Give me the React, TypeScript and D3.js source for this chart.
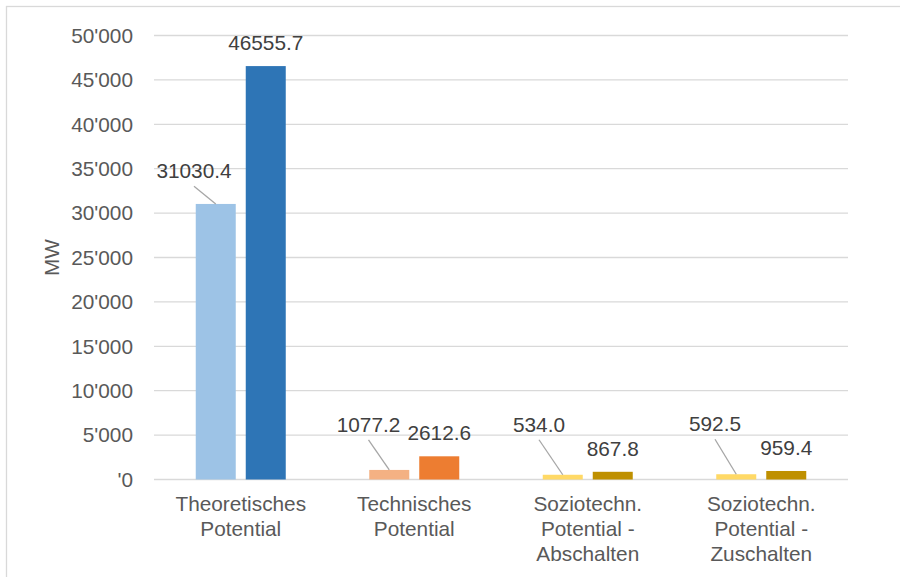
import React from "react";
import * as d3 from "d3";

// Categories (multi-line axis labels)
const categories: string[][] = [
  ["Theoretisches", "Potential"],
  ["Technisches", "Potential"],
  ["Soziotechn.", "Potential -", "Abschalten"],
  ["Soziotechn.", "Potential -", "Zuschalten"],
];

// Two series per category (lower and upper estimate), in MW
const lowValues: number[] = [31030.4, 1077.2, 534.0, 592.5];
const highValues: number[] = [46555.7, 2612.6, 867.8, 959.4];

const lowColors = ["#9DC3E6", "#F4B183", "#FFD966", "#FFD966"];
const highColors = ["#2E75B6", "#ED7D31", "#BF9000", "#BF9000"];

const yTicks: number[] = [0, 5000, 10000, 15000, 20000, 25000, 30000, 35000, 40000, 45000, 50000];
const yTickLabels: string[] = ["'0", "5'000", "10'000", "15'000", "20'000", "25'000", "30'000", "35'000", "40'000", "45'000", "50'000"];

// Offsets (px) of the moved low-series labels from their bar top, with a leader line
const lowLabelOffsets: [number, number][] = [
  [-21.75, -25.7],
  [-20.75, -38],
  [-23.75, -43],
  [-21.25, -43],
];

const W = 900;
const H = 577;
const FONT = "'Liberation Sans', Arial, sans-serif";
const FS = 20.8;

export default function App() {
  const plot = { left: 154, right: 848, top: 35.5, bottom: 479.5 };

  const y = d3.scaleLinear().domain([0, 50000]).range([plot.bottom, plot.top]);
  const x0 = d3
    .scaleBand<number>()
    .domain(categories.map((_, i) => i))
    .range([plot.left, plot.right])
    .padding(0);
  const x1 = d3.scaleBand<string>().domain(["low", "high"]).range([-45, 45]).paddingInner(0.2);

  const catCenter = (i: number) => (x0(i) as number) + x0.bandwidth() / 2;
  const bw = x1.bandwidth();

  return (
    <svg
      width={W}
      height={H}
      style={{ position: "absolute", left: 0, top: 0, background: "#fff" }}
      fontFamily={FONT}
    >
      <rect x={6.5} y={6.5} width={W + 20} height={H + 20} fill="#fff" stroke="#D9D9D9" strokeWidth={1.3} />

      {/* gridlines */}
      {yTicks.map((t) => (
        <line
          key={t}
          x1={plot.left}
          x2={plot.right}
          y1={y(t)}
          y2={y(t)}
          stroke="#D9D9D9"
          strokeWidth={1.3}
        />
      ))}

      {/* y tick labels */}
      {yTicks.map((t, i) => (
        <text
          key={"l" + t}
          x={133}
          y={y(t)}
          dy="0.35em"
          textAnchor="end"
          fontSize={FS}
          fill="#595959"
        >
          {yTickLabels[i]}
        </text>
      ))}

      {/* axis title */}
      <text
        transform={`translate(59, ${(plot.top + plot.bottom) / 2}) rotate(-90)`}
        textAnchor="middle"
        fontSize={FS}
        fill="#595959"
      >
        MW
      </text>

      {/* bars */}
      {categories.map((_, i) => {
        const cx = catCenter(i);
        const xl = cx + (x1("low") as number);
        const xh = cx + (x1("high") as number);
        return (
          <g key={"b" + i}>
            <rect x={xl} y={y(lowValues[i])} width={bw} height={y(0) - y(lowValues[i])} fill={lowColors[i]} />
            <rect x={xh} y={y(highValues[i])} width={bw} height={y(0) - y(highValues[i])} fill={highColors[i]} />
          </g>
        );
      })}

      {/* data labels */}
      {categories.map((_, i) => {
        const cx = catCenter(i);
        const lowCx = cx + (x1("low") as number) + bw / 2;
        const highCx = cx + (x1("high") as number) + bw / 2;
        const [dx, dy] = lowLabelOffsets[i];
        const lx = lowCx + dx;
        const ly = y(lowValues[i]) + dy;
        return (
          <g key={"d" + i}>
            <line x1={lx} y1={ly + 8} x2={lowCx} y2={y(lowValues[i])} stroke="#A6A6A6" strokeWidth={1.3} />
            <text x={lx} y={ly} textAnchor="middle" fontSize={FS} fill="#404040">
              {lowValues[i].toFixed(1)}
            </text>
            <text x={highCx} y={y(highValues[i]) - 16} textAnchor="middle" fontSize={FS} fill="#404040">
              {highValues[i].toFixed(1)}
            </text>
          </g>
        );
      })}

      {/* category labels */}
      {categories.map((lines, i) => (
        <text key={"c" + i} x={catCenter(i)} y={511} textAnchor="middle" fontSize={FS} fill="#595959">
          {lines.map((ln, j) => (
            <tspan key={j} x={catCenter(i)} y={511 + j * 25}>
              {ln}
            </tspan>
          ))}
        </text>
      ))}
    </svg>
  );
}
